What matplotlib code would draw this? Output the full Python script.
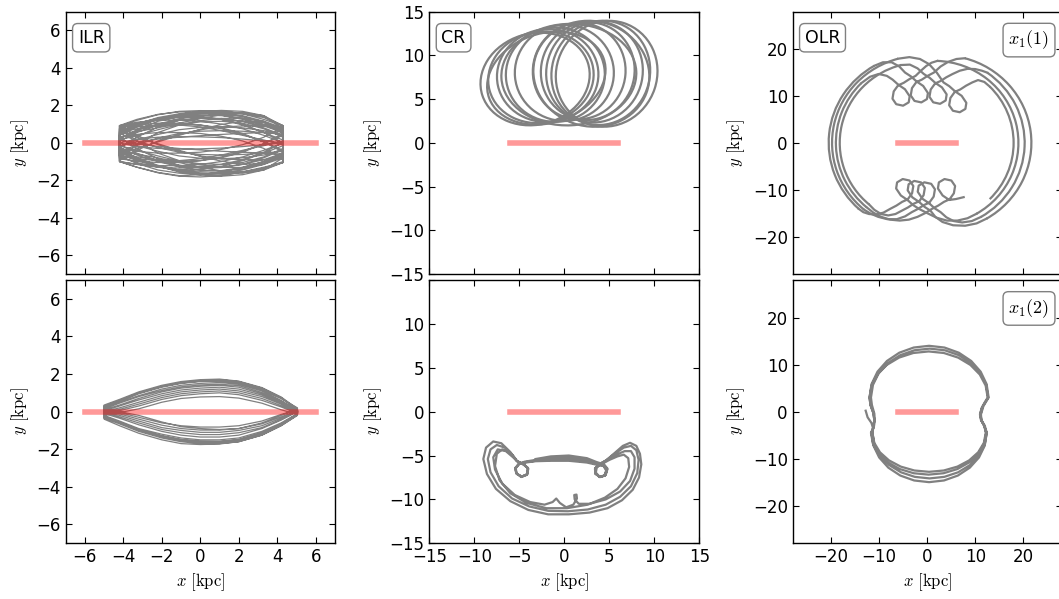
import matplotlib
matplotlib.use("Agg")
import matplotlib.pyplot as plt
from matplotlib.patches import Ellipse, Arc

plt.rcParams.update({
    "font.family": "DejaVu Sans",
    "font.size": 12,
    "mathtext.fontset": "cm",
    "xtick.direction": "in",
    "ytick.direction": "in",
    "xtick.top": True,
    "ytick.right": True,
    "xtick.major.size": 4,
    "ytick.major.size": 4,
    "axes.linewidth": 1.0,
})

ORBIT_COLOR = "gray"
BAR_X = [-6.0, 6.0]
BAR_Y = [0.0, 0.0]

# ─── ILR, x1(1): passes across the bar, y read on a common x grid ───────────
ILR1_X = [-4.2, -3.3, -2.2, -1.1, 0.0, 1.1, 2.2, 3.3, 4.3]
ILR1_UPPER = [
    [0.90, 1.20, 1.50, 1.68, 1.72, 1.70, 1.55, 1.25, 0.90],
    [0.60, 1.00, 1.35, 1.55, 1.60, 1.58, 1.45, 1.15, 0.80],
    [0.20, 0.70, 1.15, 1.40, 1.48, 1.45, 1.30, 1.00, 0.60],
    [-0.30, 0.30, 0.85, 1.20, 1.32, 1.30, 1.15, 0.80, 0.40],
    [-0.80, -0.10, 0.55, 0.95, 1.12, 1.15, 1.05, 0.75, 0.30],
    [0.85, 1.05, 1.25, 1.35, 1.35, 1.25, 1.00, 0.55, 0.00],
    [0.70, 0.85, 0.95, 1.00, 0.95, 0.80, 0.50, 0.05, -0.50],
    [0.30, 0.45, 0.55, 0.55, 0.50, 0.35, 0.10, -0.30, -0.85],
    [0.00, 0.20, 0.30, 0.33, 0.32, 0.28, 0.20, 0.10, 0.00],
    [-0.50, -0.10, 0.25, 0.50, 0.62, 0.65, 0.62, 0.55, 0.45],
    [-0.95, -0.40, 0.10, 0.45, 0.70, 0.85, 0.90, 0.90, 0.85],
    [0.50, 0.90, 1.25, 1.50, 1.62, 1.65, 1.60, 1.40, 0.92],
    [0.92, 1.10, 1.20, 1.22, 1.15, 1.00, 0.75, 0.40, 0.00],
    [0.10, 0.55, 0.95, 1.20, 1.30, 1.28, 1.15, 0.90, 0.55],
    [0.60, 0.95, 1.25, 1.45, 1.55, 1.58, 1.55, 1.35, 0.92],
    [-0.20, 0.15, 0.45, 0.70, 0.82, 0.85, 0.80, 0.65, 0.40],
    [0.80, 0.95, 1.05, 1.05, 0.95, 0.75, 0.45, 0.05, -0.40],
    [0.40, 0.85, 1.25, 1.52, 1.68, 1.73, 1.68, 1.45, 0.90],
    [0.45, 0.60, 0.80, 1.05, 1.30, 1.50, 1.60, 1.45, 0.75],
    [-0.60, -0.30, 0.05, 0.40, 0.72, 0.98, 1.15, 1.10, 0.70],
    [0.75, 1.05, 1.30, 1.45, 1.42, 1.25, 0.95, 0.55, 0.15],
    [0.15, 0.40, 0.70, 0.98, 1.18, 1.30, 1.32, 1.15, 0.65],
    [0.92, 1.25, 1.52, 1.65, 1.62, 1.48, 1.25, 0.95, 0.60],
    [-0.15, 0.05, 0.20, 0.30, 0.38, 0.45, 0.50, 0.55, 0.60],
    [0.55, 0.75, 0.90, 0.95, 0.85, 0.65, 0.40, 0.15, -0.10],
    [0.25, 0.65, 1.00, 1.28, 1.45, 1.50, 1.40, 1.10, 0.50],
]
ILR1_LOWER = [
    [-1.00, -1.30, -1.60, -1.78, -1.82, -1.75, -1.55, -1.30, -1.05],
    [-0.70, -1.10, -1.45, -1.62, -1.68, -1.62, -1.45, -1.15, -0.80],
    [-0.30, -0.80, -1.20, -1.45, -1.52, -1.48, -1.32, -1.00, -0.55],
    [0.30, -0.30, -0.85, -1.20, -1.35, -1.32, -1.15, -0.80, -0.35],
    [0.85, 0.10, -0.55, -0.95, -1.12, -1.15, -1.05, -0.75, -0.30],
    [-1.00, -1.15, -1.30, -1.35, -1.30, -1.15, -0.90, -0.50, 0.00],
    [-0.70, -0.85, -0.95, -1.00, -0.95, -0.80, -0.50, -0.05, 0.50],
    [-0.30, -0.45, -0.55, -0.55, -0.50, -0.35, -0.10, 0.30, 0.85],
    [0.00, -0.20, -0.30, -0.33, -0.32, -0.28, -0.20, -0.10, 0.00],
    [0.50, 0.10, -0.25, -0.50, -0.62, -0.65, -0.62, -0.55, -0.45],
    [0.90, 0.40, -0.10, -0.45, -0.70, -0.85, -0.90, -0.90, -0.85],
    [-0.50, -0.90, -1.25, -1.52, -1.65, -1.68, -1.60, -1.40, -1.05],
    [-1.00, -1.15, -1.22, -1.22, -1.15, -1.00, -0.75, -0.40, 0.00],
    [-0.10, -0.55, -0.95, -1.20, -1.30, -1.28, -1.15, -0.90, -0.55],
    [-0.60, -0.95, -1.25, -1.48, -1.60, -1.62, -1.55, -1.35, -1.00],
    [0.20, -0.15, -0.45, -0.70, -0.82, -0.85, -0.80, -0.65, -0.40],
    [-0.85, -0.98, -1.05, -1.05, -0.95, -0.75, -0.45, -0.05, 0.40],
    [-0.40, -0.85, -1.25, -1.55, -1.72, -1.78, -1.70, -1.45, -1.05],
    [-0.45, -0.60, -0.80, -1.05, -1.30, -1.50, -1.60, -1.45, -0.80],
    [0.60, 0.30, -0.05, -0.40, -0.72, -0.98, -1.15, -1.10, -0.70],
    [-0.75, -1.05, -1.30, -1.45, -1.42, -1.25, -0.95, -0.55, -0.15],
    [-0.15, -0.40, -0.70, -0.98, -1.18, -1.30, -1.32, -1.15, -0.65],
    [-1.00, -1.30, -1.58, -1.75, -1.70, -1.55, -1.30, -1.00, -0.65],
    [0.15, -0.05, -0.20, -0.30, -0.38, -0.45, -0.50, -0.55, -0.60],
    [-0.55, -0.75, -0.90, -0.95, -0.85, -0.65, -0.40, -0.15, 0.10],
    [-0.25, -0.65, -1.00, -1.28, -1.45, -1.50, -1.40, -1.10, -0.50],
]

# ─── ILR, x1(2): lens-shaped loops ──────────────────────────────────────────
ILR2_X = [-5.0, -4.2, -3.2, -2.0, -1.0, 0.0, 1.0, 2.0, 3.2, 4.2, 5.05]
ILR2_UPPER = [
    [0.30, 0.60, 1.00, 1.35, 1.55, 1.65, 1.70, 1.60, 1.25, 0.75, 0.10],
    [0.20, 0.50, 0.85, 1.20, 1.40, 1.50, 1.55, 1.45, 1.10, 0.60, 0.05],
    [0.10, 0.35, 0.70, 1.05, 1.25, 1.35, 1.40, 1.30, 0.95, 0.50, 0.00],
    [0.00, 0.20, 0.50, 0.85, 1.05, 1.15, 1.20, 1.10, 0.80, 0.40, -0.05],
    [-0.10, 0.05, 0.30, 0.65, 0.85, 0.95, 1.00, 0.90, 0.60, 0.25, -0.10],
    [-0.20, -0.05, 0.15, 0.50, 0.70, 0.78, 0.80, 0.72, 0.45, 0.10, -0.15],
    [0.25, 0.55, 0.95, 1.30, 1.50, 1.60, 1.62, 1.50, 1.15, 0.70, 0.20],
    [0.15, 0.45, 0.80, 1.12, 1.32, 1.42, 1.46, 1.38, 1.02, 0.55, 0.08],
    [0.35, 0.65, 1.05, 1.40, 1.60, 1.70, 1.73, 1.62, 1.28, 0.78, 0.15],
    [0.05, 0.30, 0.62, 0.95, 1.15, 1.25, 1.30, 1.20, 0.88, 0.45, -0.02],
    [-0.05, 0.12, 0.40, 0.75, 0.95, 1.05, 1.10, 1.00, 0.70, 0.32, -0.08],
    [0.28, 0.58, 0.98, 1.33, 1.52, 1.62, 1.66, 1.55, 1.20, 0.72, 0.12],
]
ILR2_LOWER = [
    [-0.30, -0.60, -1.00, -1.35, -1.55, -1.65, -1.65, -1.55, -1.20, -0.70, -0.15],
    [-0.20, -0.50, -0.90, -1.20, -1.40, -1.50, -1.50, -1.40, -1.05, -0.60, -0.10],
    [-0.10, -0.35, -0.70, -1.05, -1.25, -1.35, -1.35, -1.25, -0.90, -0.45, 0.00],
    [0.00, -0.20, -0.50, -0.85, -1.00, -1.10, -1.10, -1.00, -0.75, -0.35, 0.05],
    [0.10, -0.05, -0.30, -0.60, -0.75, -0.82, -0.82, -0.75, -0.50, -0.15, 0.10],
    [-0.40, -0.75, -1.15, -1.50, -1.70, -1.75, -1.72, -1.60, -1.25, -0.75, -0.20],
    [0.20, 0.00, -0.20, -0.55, -0.80, -0.90, -0.95, -0.90, -0.60, -0.20, 0.15],
    [-0.25, -0.55, -0.95, -1.28, -1.48, -1.57, -1.58, -1.48, -1.12, -0.65, -0.12],
    [-0.35, -0.65, -1.05, -1.40, -1.60, -1.70, -1.70, -1.60, -1.25, -0.75, -0.18],
    [-0.05, -0.28, -0.60, -0.95, -1.12, -1.22, -1.22, -1.12, -0.85, -0.42, 0.02],
    [0.05, -0.12, -0.40, -0.72, -0.90, -0.98, -0.98, -0.90, -0.65, -0.28, 0.06],
    [-0.28, -0.58, -0.98, -1.30, -1.50, -1.60, -1.60, -1.50, -1.15, -0.68, -0.14],
]

# ─── CR, x1(1): loops around the Lagrange point (centre, size, tilt) ────────
CR1_CX = [-3.25, -2.6, -1.85, -1.0, 0.0, 4.7, 4.05, 3.35, 2.6, 1.65, 0.5, -2.0, 3.0]
CR1_CY = [7.3, 7.5, 7.7, 7.8, 8.0, 7.9, 8.0, 8.1, 8.2, 8.2, 7.8, 7.4, 7.9]
CR1_W = [12.3, 11.8, 11.3, 11.0, 11.0, 11.2, 10.9, 10.7, 10.4, 10.3, 15.0, 13.5, 13.0]
CR1_H = [10.4, 10.4, 10.6, 10.8, 11.0, 12.2, 12.0, 11.6, 11.2, 11.0, 11.6, 10.2, 12.0]
CR1_ANG = [18, 15, 12, 9, 5, -18, -15, -12, -9, -5, 3, 20, -20]

# ─── CR, x1(2): banana orbit below the bar, one list per revolution ─────────
CR2_X = [
    [-3.2, -1.5, 0.5, 2.5, 3.6, 4.4, 4.8, 4.6, 4.0, 3.45, 3.4, 3.8, 4.6, 5.6, 6.5, 7.3, 8.0,
     8.4, 8.55, 8.3, 7.6, 6.4, 4.8, 2.8, 0.5, -1.8, -4.0, -6.0, -7.6, -8.6, -9.0, -8.7, -7.9,
     -7.0, -6.0, -5.3, -4.6, -4.05, -4.1, -4.7, -5.3, -5.45, -5.1, -4.4],
    [-3.2, -1.5, 0.5, 2.5, 3.6, 4.4, 4.75, 4.55, 3.95, 3.45, 3.45, 3.9, 4.7, 5.6, 6.6, 7.4,
     8.0, 8.25, 8.1, 7.4, 6.2, 4.6, 2.6, 0.4, -1.8, -3.9, -5.8, -7.3, -8.2, -8.5, -8.2, -7.5,
     -6.6, -5.8, -5.25, -4.55, -4.05, -4.15, -4.75, -5.3, -5.4, -5.0, -4.3],
    [-3.2, -1.5, 0.5, 2.5, 3.6, 4.4, 4.7, 4.5, 3.9, 3.45, 3.5, 4.0, 4.9, 5.8, 6.7, 7.4, 7.8,
     7.8, 7.3, 6.2, 4.6, 2.8, 1.6, 1.15, 1.1, 1.35, 1.4, 1.0, 0.2, -0.5, -0.9, -1.3, -2.2,
     -3.8, -5.5, -6.9, -7.7, -7.9, -7.4, -6.5, -5.7, -5.2, -4.5, -4.0, -4.15, -4.8, -5.35,
     -5.45, -5.0, -4.3],
    [-3.2, -1.5, 0.5, 2.5, 3.6, 4.35, 4.65, 4.45, 3.9, 3.5, 3.6, 4.1, 5.0, 5.9, 6.6, 7.1, 7.2,
     6.8, 5.9, 4.5, 2.6, 0.3, -2.0, -4.2, -6.0, -7.2, -7.7, -7.5, -6.9, -6.1, -5.4],
]
CR2_Y = [
    [-5.4, -5.1, -5.0, -5.3, -5.75, -6.0, -6.5, -7.2, -7.45, -7.1, -6.5, -6.0, -5.6, -4.7,
     -3.9, -3.55, -3.9, -4.8, -6.0, -7.5, -8.9, -10.1, -11.0, -11.5, -11.7, -11.7, -11.2,
     -10.2, -8.8, -7.1, -5.4, -4.1, -3.4, -3.6, -4.6, -5.6, -5.95, -6.4, -7.1, -7.4, -7.1,
     -6.5, -5.95, -5.7],
    [-5.5, -5.3, -5.25, -5.5, -5.85, -6.1, -6.6, -7.25, -7.45, -7.05, -6.45, -6.0, -5.5, -4.8,
     -4.1, -3.9, -4.4, -5.5, -7.0, -8.5, -9.7, -10.6, -11.15, -11.35, -11.3, -10.8, -9.9,
     -8.5, -6.9, -5.4, -4.3, -3.8, -4.1, -4.9, -5.65, -6.0, -6.45, -7.15, -7.4, -7.05, -6.45,
     -5.95, -5.75],
    [-5.6, -5.5, -5.5, -5.7, -5.95, -6.15, -6.65, -7.3, -7.45, -7.0, -6.4, -6.0, -5.45, -4.9,
     -4.5, -4.5, -5.2, -6.5, -7.9, -9.1, -10.0, -10.5, -10.5, -10.0, -9.5, -9.45, -9.9, -10.6,
     -10.9, -10.4, -9.9, -10.3, -10.6, -10.3, -9.5, -8.2, -6.6, -5.2, -4.3, -4.5, -5.2, -5.7,
     -6.05, -6.5, -7.2, -7.45, -7.0, -6.4, -5.95, -5.8],
    [-5.65, -5.6, -5.6, -5.8, -6.05, -6.2, -6.7, -7.3, -7.4, -6.95, -6.35, -6.0, -5.5, -5.1,
     -4.9, -5.3, -6.3, -7.6, -8.8, -9.8, -10.6, -11.0, -11.0, -10.4, -9.3, -7.8, -6.2, -4.8,
     -4.3, -4.6, -5.4],
]

# ─── OLR, x1(1): wide circular arcs joined by curls near y = +-10 ───────────
# arcs: centre x (centre y = 0), radius, start and end angle in degrees
OLR1_ARC_CX = [-1.0, 1.5, -1.5, 3.0, -1.0, 2.0, -1.2, 1.0]
OLR1_ARC_R = [18.0, 17.5, 19.0, 18.7, 17.2, 18.3, 18.6, 17.0]
OLR1_ARC_T1 = [135, -60, 120, -60, 105, -60, 105, -45]
OLR1_ARC_T2 = [230, 88, 228, 75, 230, 55, 230, 45]
# the pieces of the orbit between arcs, each one with its curl
OLR1_PIECE_X = [
    [7.6, 6.0, 4.6, 3.22, 2.24, 2.44, 3.61, 5.04, 5.82, 5.56, 4.65, 3.5, 2.3, 1.0, -0.4, -2.0,
     -3.8, -5.7, -7.7, -9.6, -11.2, -12.57],
    [-13.73, -11.9, -10.1, -8.4, -7.2, -6.0, -4.62, -3.64, -3.84, -5.01, -6.44, -7.22, -6.96,
     -6.05, -4.9, -3.7, -2.4, -1.3, -0.2, 0.9, 2.11],
    [10.25, 8.4, 6.3, 4.1, 2.0, 0.0, -1.7, -2.9, -4.1, -5.48, -6.46, -6.26, -5.09, -3.66,
     -2.88, -3.14, -4.05, -5.2, -6.4, -7.7, -9.1, -10.6, -12.1, -13.3, -14.21],
    [-11.0, -9.2, -7.4, -5.8, -4.6, -3.4, -2.2, -0.82, 0.16, -0.04, -1.21, -2.64, -3.42,
     -3.16, -2.25, -1.1, 0.1, 1.4, 2.8, 4.4, 6.1, 7.84],
    [12.35, 10.3, 7.9, 5.4, 3.2, 1.7, 0.7, -0.5, -1.7, -3.08, -4.06, -3.86, -2.69, -1.26,
     -0.48, -0.74, -1.65, -2.8, -4.0, -5.3, -6.6, -8.1, -9.6, -11.0, -12.06],
    [-5.45, -3.6, -2.0, -0.7, 0.5, 1.7, 3.08, 4.06, 3.86, 2.69, 1.26, 0.48, 0.74, 1.65, 2.8,
     4.0, 5.3, 6.8, 8.4, 10.0, 11.4, 12.5],
    [11.15, 9.3, 7.3, 5.5, 4.0, 2.8, 1.6, 0.4, -0.98, -1.96, -1.76, -0.59, 0.84, 1.62, 1.36,
     0.45, -0.7, -1.9, -3.2, -4.6, -6.3, -8.3, -10.2, -11.8, -13.16],
    [-6.01, -3.7, -1.5, 0.4, 2.0, 3.4, 4.6, 5.8, 7.18, 8.16, 7.96, 6.79, 5.36, 4.58, 4.84,
     5.75, 6.9, 8.1, 9.4, 10.6, 11.9, 13.02],
]
OLR1_PIECE_Y = [
    [-11.6, -12.0, -12.2, -11.24, -9.74, -8.44, -7.73, -8.05, -9.22, -10.78, -12.07, -12.6,
     -13.4, -14.1, -15.0, -15.8, -16.4, -16.6, -16.4, -15.8, -14.9, -13.79],
    [12.73, 14.1, 14.7, 14.3, 13.5, 12.4, 11.44, 9.94, 8.64, 7.93, 8.25, 9.42, 10.98, 12.27,
     12.8, 13.6, 14.3, 15.4, 16.4, 17.1, 17.49],
    [-15.16, -16.1, -16.6, -16.6, -16.0, -15.0, -14.1, -13.3, -12.2, -11.24, -9.74, -8.44,
     -7.73, -8.05, -9.22, -10.78, -12.07, -12.6, -13.4, -14.1, -14.9, -15.3, -15.2, -14.8,
     -14.12],
    [16.45, 17.2, 17.2, 16.3, 15.0, 14.2, 13.1, 12.14, 10.64, 9.34, 8.63, 8.95, 10.12, 11.68,
     12.97, 13.5, 14.3, 15.0, 16.3, 17.3, 17.9, 18.06],
    [-16.19, -17.2, -17.7, -17.6, -16.9, -15.8, -14.5, -13.7, -12.6, -11.64, -10.14, -8.84,
     -8.13, -8.45, -9.62, -11.18, -12.47, -13.0, -13.8, -14.5, -15.2, -15.5, -15.2, -14.3,
     -13.18],
    [16.61, 16.7, 15.9, 14.7, 13.9, 12.8, 11.84, 10.34, 9.04, 8.33, 8.65, 9.82, 11.38, 12.67,
     13.2, 14.0, 14.7, 15.4, 15.8, 15.75, 15.4, 14.99],
    [-15.85, -16.7, -17.0, -16.7, -15.9, -14.8, -14.0, -12.9, -11.94, -10.44, -9.14, -8.43,
     -8.75, -9.92, -11.48, -12.77, -13.3, -14.1, -14.8, -15.7, -16.3, -16.3, -15.8, -15.1,
     -14.25],
    [17.97, 18.3, 17.9, 16.8, 15.0, 12.9, 12.1, 11.0, 10.04, 8.54, 7.24, 6.53, 6.85, 8.02,
     9.58, 10.87, 11.4, 12.2, 12.9, 13.4, 13.0, 12.02],
]

# ─── OLR, x1(2): near-circular, slightly pinched at the sides ───────────────
OLR2_X = [
    -12.8, -12.4, -11.6, -11.3,
    -11.6, -11.19, -9.99, -8.08, -5.6, -2.71, 0.4, 3.51, 6.4, 8.88, 10.79, 11.99, 12.4,
    12.0, 11.3, 11.1, 11.5, 12.2,
    12.8, 12.38, 11.14, 9.17, 6.6, 3.61, 0.4, -2.81, -5.8, -8.37, -10.34, -11.58, -12.0,
    -11.8, -11.2, -11.0, -11.2,
    -11.4, -10.99, -9.81, -7.91, -5.45, -2.58, 0.5, 3.58, 6.45, 8.91, 10.81, 11.99, 12.4,
    11.9, 11.3, 11.0, 11.4, 12.1,
    12.7, 12.28, 11.07, 9.13, 6.6, 3.66, 0.5, -2.66, -5.6, -8.13, -10.07, -11.28, -11.7,
    -11.5, -11.0, -10.9, -11.1,
    -11.7, -11.29, -10.09, -8.18, -5.7, -2.81, 0.3, 3.41, 6.3, 8.78, 10.69, 11.89, 12.3,
    11.9, 11.2, 11.0, 11.4, 12.0,
    12.6, 12.18, 10.95, 9.0, 6.45, 3.48, 0.3, -2.88, -5.85, -8.4, -10.35, -11.58, -12.0,
    -11.8, -11.2, -11.0, -11.2,
    -11.4, -11.0, -9.82, -7.94, -5.5, -2.65, 0.4, 3.45, 6.3, 8.74, 10.62, 11.8, 12.2,
    11.9, 11.3, 11.2, 11.6,
]
OLR2_Y = [
    0.2, -1.2, -2.4, -3.4,
    -4.5, -7.22, -9.75, -11.92, -13.59, -14.64, -15.0, -14.64, -13.59, -11.92, -9.75, -7.22,
    -4.5,
    -3.0, -1.8, -0.6, 0.8, 2.0,
    3.0, 5.85, 8.5, 10.78, 12.53, 13.63, 14.0, 13.63, 12.53, 10.78, 8.5, 5.85, 3.0,
    1.4, -0.3, -1.8, -3.2,
    -4.5, -7.01, -9.35, -11.36, -12.9, -13.87, -14.2, -13.87, -12.9, -11.36, -9.35, -7.01, -4.5,
    -3.1, -1.9, -0.7, 0.8, 2.0,
    3.0, 5.69, 8.2, 10.35, 12.01, 13.05, 13.4, 13.05, 12.01, 10.35, 8.2, 5.69, 3.0,
    1.4, -0.4, -1.9, -3.3,
    -4.5, -6.8, -8.95, -10.79, -12.21, -13.1, -13.4, -13.1, -12.21, -10.79, -8.95, -6.8, -4.5,
    -3.0, -1.8, -0.5, 0.9, 2.0,
    3.0, 5.54, 7.9, 9.93, 11.49, 12.47, 12.8, 12.47, 11.49, 9.93, 7.9, 5.54, 3.0,
    1.4, -0.3, -1.8, -3.3,
    -4.5, -6.65, -8.65, -10.37, -11.69, -12.52, -12.8, -12.52, -11.69, -10.37, -8.65, -6.65,
    -4.5,
    -3.0, -1.9, -0.6, 0.8,
]

LIMITS = [7, 15, 28]
TICKS = [[-6, -4, -2, 0, 2, 4, 6],
         [-15, -10, -5, 0, 5, 10, 15],
         [-20, -10, 0, 10, 20]]
RES_LABELS = ["ILR", "CR", "OLR"]
FAMILY_LABELS = [r"$x_1(1)$", r"$x_1(2)$"]

# axes rectangles in figure fractions (figure is 1059 x 599 px)
COL_X0 = [0.0620, 0.4054, 0.7485]
COL_W = [0.2543, 0.2550, 0.2540]
ROW_Y0 = [0.5426, 0.0930]
ROW_H = [0.4379, 0.4396]


def loop_trajectory(x_grid, uppers, lowers):
    """Upper passes left->right, lower passes right->left, chained."""
    xs, ys = [], []
    for up, lo in zip(uppers, lowers):
        xs += list(x_grid) + list(x_grid)[::-1]
        ys += list(up) + list(lo)[::-1]
    return xs, ys


fig = plt.figure(figsize=(10.59, 5.99), dpi=100)
axes = [[fig.add_axes([COL_X0[c], ROW_Y0[r], COL_W[c], ROW_H[r]]) for c in range(3)]
        for r in range(2)]

tx, ty = loop_trajectory(ILR1_X, ILR1_UPPER, ILR1_LOWER)
axes[0][0].plot(tx, ty, color=ORBIT_COLOR, lw=0.9)

tx, ty = loop_trajectory(ILR2_X, ILR2_UPPER, ILR2_LOWER)
axes[1][0].plot(tx, ty, color=ORBIT_COLOR, lw=0.9)

for cx, cy, w, h, ang in zip(CR1_CX, CR1_CY, CR1_W, CR1_H, CR1_ANG):
    axes[0][1].add_patch(Ellipse((cx, cy), w, h, angle=ang, fill=False,
                                 edgecolor=ORBIT_COLOR, lw=1.6))

cr_x = [v for rev in CR2_X for v in rev]
cr_y = [v for rev in CR2_Y for v in rev]
axes[1][1].plot(cr_x, cr_y, color=ORBIT_COLOR, lw=1.6)

for cx, rad, t1, t2 in zip(OLR1_ARC_CX, OLR1_ARC_R, OLR1_ARC_T1, OLR1_ARC_T2):
    axes[0][2].add_patch(Arc((cx, 0.0), 2 * rad, 2 * rad, theta1=t1, theta2=t2,
                             edgecolor=ORBIT_COLOR, lw=1.6))
for px, py in zip(OLR1_PIECE_X, OLR1_PIECE_Y):
    axes[0][2].plot(px, py, color=ORBIT_COLOR, lw=1.6)
axes[1][2].plot(OLR2_X, OLR2_Y, color=ORBIT_COLOR, lw=1.6)

for r in range(2):
    for c in range(3):
        ax = axes[r][c]
        lim = LIMITS[c]
        ax.plot(BAR_X, BAR_Y, color="r", alpha=0.4, lw=4,
                solid_capstyle="projecting", zorder=3)
        ax.set_xlim(-lim, lim)
        ax.set_ylim(-lim, lim)
        ax.set_xticks(TICKS[c])
        ax.set_yticks(TICKS[c])
        if r == 1 and c == 1:
            ax.set_yticklabels([str(t).replace("-", "\u2212") if t != 15 else ""
                                for t in TICKS[c]])
        ax.set_ylabel(r"$y\ [\mathrm{kpc}]$", fontsize=12)
        if r == 0:
            ax.tick_params(labelbottom=False)
            ax.text(0.045, 0.935, RES_LABELS[c], transform=ax.transAxes,
                    ha="left", va="top", fontsize=12.5,
                    bbox=dict(boxstyle="round,pad=0.3", fc="white", ec="gray"))
        else:
            ax.set_xlabel(r"$x\ [\mathrm{kpc}]$", fontsize=12)
        if c == 2:
            ax.text(0.955, 0.935, FAMILY_LABELS[r], transform=ax.transAxes,
                    ha="right", va="top", fontsize=13,
                    bbox=dict(boxstyle="round,pad=0.3", fc="white", ec="gray"))

fig.savefig("out.png", dpi=100)
